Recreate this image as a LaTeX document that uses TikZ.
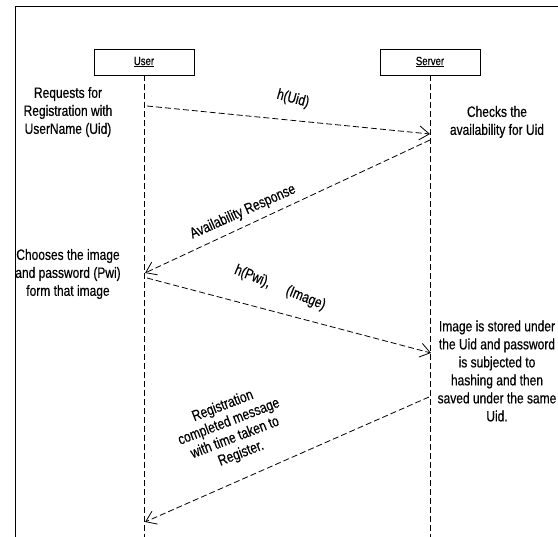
\documentclass[tikz,border=0pt]{standalone}
\usepackage{fontspec}
\setmainfont{Liberation Sans}[FakeStretch=0.8, FakeBold=0.4]
\usetikzlibrary{arrows.meta,positioning}

\begin{document}
\begin{tikzpicture}[x=1pt, y=-1pt,
  box/.style={draw, thick, minimum width=100pt, minimum height=26pt,
              inner sep=0pt, font=\fontsize{12}{14}\selectfont},
  note/.style={align=center, inner sep=0pt, font=\fontsize{15}{18}\selectfont},
  lbl/.style={align=center, inner sep=0pt, font=\fontsize{15}{17}\selectfont},
  arr/.style={thick, dash pattern=on 6pt off 3pt,
              -{Straight Barb[length=10pt, width=14pt]}},
  life/.style={dash pattern=on 6pt off 3pt}]
\useasboundingbox (0,0) rectangle (558,537);
% frame
\draw[thick] (15,537) -- (15,6) -- (558,6);
% actors and lifelines
\node[box] (user) at (144,62) {\underline{User}};
\node[box] (server) at (430,62) {\underline{Server}};
\coordinate (userEnd) at (144,537);
\coordinate (serverEnd) at (430,537);
\draw[life] (user.south) -- (userEnd);
\draw[life] (server.south) -- (serverEnd);
% message points
\coordinate (u1) at (147,106);
\coordinate (s1) at (430,134);
\coordinate (s2) at (430,140);
\coordinate (u2) at (145,273);
\coordinate (u3) at (147,278);
\coordinate (s3) at (431,353);
\coordinate (s4) at (429,397);
\coordinate (u4) at (145,522);
% messages
\draw[arr] (u1) -- (s1);
\draw[arr] (s2) -- (u2);
\draw[arr] (u3) -- (s3);
\draw[arr] (s4) -- (u4);
\node[lbl, rotate=-15] (uid) at (293,99) {h(Uid)};
\node[lbl, rotate=24] (avail) at (243,212) {Availability Response};
\node[lbl, rotate=-22] (pwi) at (280,288) {h(Pwi),\hspace{1.2em}(Image)};
\node[lbl, rotate=21] (done) at (232,430)
  {Registration\\ completed message\\ with time taken to\\ Register.};
% notes
\node[note] (req) at (68,112) {Requests for\\ Registration with\\ UserName (Uid)};
\node[note] (check) at (497,122) {Checks the\\ availability for Uid};
\node[note] (choose) at (68,274) {Chooses the image\\ and password (Pwi)\\ form that image};
\node[note] (store) at (497,371) {Image is stored under\\ the Uid and password\\ is subjected to\\
  hashing and then\\ saved under the same\\ Uid.};
\end{tikzpicture}
\end{document}
